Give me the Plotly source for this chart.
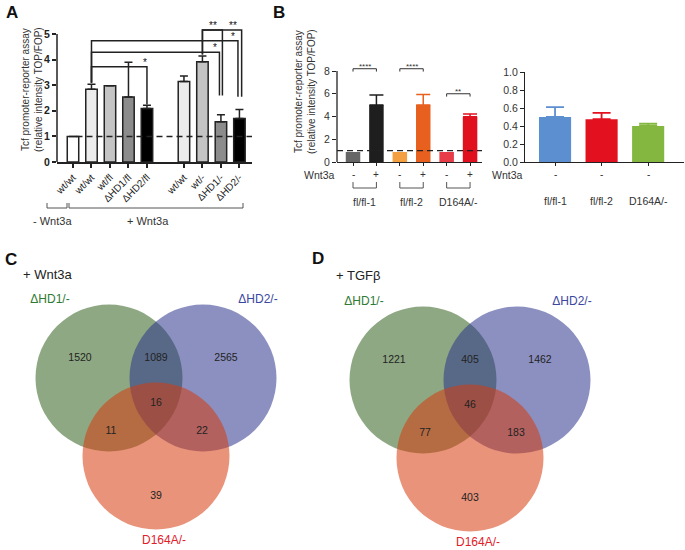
import plotly.graph_objects as go

W, H = 685, 550
FONT = "Liberation Sans, Arial, sans-serif"


def px(x):
    return x / W


def py(y):
    return 1 - y / H


# ---- Panel A data ----
labels_a = ["wt/wt", "wt/wt", "wt/fl", "ΔHD1/fl", "ΔHD2/fl", "wt/wt", "wt/-", "ΔHD1/-", "ΔHD2/-"]
pos_a = [0, 1, 2, 3, 4, 6, 7, 8, 9]
vals_a = [1.0, 2.84, 2.98, 2.54, 2.09, 3.14, 3.92, 1.57, 1.70]
err_a = [0, 0.2, 0, 1.36, 0.13, 0.22, 0.22, 0.28, 0.35]
colors_a = ["#ffffff", "#ececec", "#c4c4c4", "#8c8c8c", "#000000",
            "#ececec", "#c4c4c4", "#8c8c8c", "#000000"]
# (from bar, to bar, level, text, leg end, leg x shift, star x shift)
sig_a = [(1, 4, 3.72, "*", 2.25, 0.0, -0.1),
         (1, 7, 4.29, "*", 2.6, -0.08, -0.32),
         (1, 8, 4.74, "*", 2.55, -0.08, -0.35),
         (6, 7, 5.16, "**", 2.6, 0.08, -0.45),
         (6, 8, 5.16, "**", 2.55, 0.12, -0.35)]

# ---- Panel B data ----
wnt_b = ["-", "+", "-", "+", "-", "+"]
vals_b = [0.88, 5.02, 0.88, 5.02, 0.88, 3.97]
err_b = [0, 0.88, 0, 0.92, 0, 0.24]
colors_b = ["#666666", "#1e1e1e", "#f4a040", "#e8601e", "#e83c48", "#e0101e"]
groups_b = ["fl/fl-1", "fl/fl-2", "D164A/-"]
sig_b = [(0, 1, 8.2, "****"), (2, 3, 8.2, "****"), (4, 5, 6.0, "**")]

vals_b2 = [0.50, 0.475, 0.40]
err_b2 = [0.11, 0.07, 0.025]
colors_b2 = ["#5b8fd0", "#e3101f", "#84b740"]

# ---- Venn data (regions: G, GB, B, GBR, GR, BR, R) ----
sets_venn = ["ΔHD1/-", "ΔHD2/-", "D164A/-"]
counts_c = [1520, 1089, 2565, 16, 11, 22, 39]
counts_d = [1221, 405, 1462, 46, 77, 183, 403]

fig = go.Figure()

# Panel A bars
fig.add_trace(go.Bar(
    x=pos_a, y=vals_a, width=0.62, xaxis="x", yaxis="y",
    marker=dict(color=colors_a, line=dict(color="#222", width=1.5)),
    error_y=dict(type="data", array=err_a, arrayminus=[0] * len(err_a), symmetric=False,
                 color="#222", thickness=1.5, width=4),
))

# Panel B left bars
for i, v in enumerate(vals_b):
    fig.add_trace(go.Bar(
        x=[i], y=[v], width=0.62, xaxis="x2", yaxis="y2",
        marker=dict(color=colors_b[i], line=dict(width=0)),
        error_y=dict(type="data", array=[err_b[i]], arrayminus=[0], symmetric=False,
                     color=colors_b[i], thickness=1.5, width=7, visible=err_b[i] > 0),
    ))

# Panel B right bars
for i, v in enumerate(vals_b2):
    fig.add_trace(go.Bar(
        x=[i], y=[v], width=0.69, xaxis="x3", yaxis="y3",
        marker=dict(color=colors_b2[i], line=dict(width=0)),
        error_y=dict(type="data", array=[err_b2[i]], arrayminus=[0], symmetric=False,
                     color=colors_b2[i], thickness=1.8, width=9),
    ))

shapes = []
ann = []


def note(x, y, text, size=10.5, color="#333", xref="paper", yref="paper", **kw):
    ann.append(dict(x=x, y=y, xref=xref, yref=yref, text=text, showarrow=False,
                    xanchor=kw.pop("xanchor", "center"), yanchor=kw.pop("yanchor", "middle"),
                    font=dict(size=size, color=color, **kw.pop("font_extra", {})), **kw))


# axis lines / dashed reference
shapes.append(dict(type="line", xref="x domain", yref="y", x0=0, x1=0, y0=0, y1=5,
                   line=dict(color="#222", width=1.5)))
shapes.append(dict(type="line", xref="x domain", yref="y", x0=0.1, x1=1, y0=1, y1=1,
                   line=dict(color="#222", width=1.5, dash="6px,4px")))
shapes.append(dict(type="line", xref="x2 domain", yref="y2", x0=0, x1=0, y0=0, y1=8,
                   line=dict(color="#222", width=1.3)))
shapes.append(dict(type="line", xref="x2 domain", yref="y2", x0=0, x1=1, y0=1, y1=1,
                   line=dict(color="#222", width=1.3, dash="6px,4px")))

# significance brackets A
for i, j, lev, txt, bot, dx, sx in sig_a:
    xi, xj = pos_a[i], pos_a[j] + dx
    top_i = vals_a[i] + err_a[i] + 0.06
    shapes.append(dict(type="path", xref="x", yref="y",
                       path=f"M{xi},{top_i} L{xi},{lev} L{xj},{lev} L{xj},{bot}",
                       line=dict(color="#222", width=1.5)))
    note(pos_a[j] + sx, lev, txt, size=10, color="#111", xref="x", yref="y",
         yanchor="bottom", yshift=-3)

# significance brackets B
for i, j, lev, txt in sig_b:
    shapes.append(dict(type="path", xref="x2", yref="y2",
                       path=f"M{i},{lev - 0.25} L{i},{lev} L{j},{lev} L{j},{lev - 0.25}",
                       line=dict(color="#333", width=1)))
    note((i + j) / 2, lev, txt, size=8, xref="x2", yref="y2", yanchor="bottom", yshift=-4)

# below panel A
for x0, x1 in [(47, 67), (69, 243)]:
    shapes.append(dict(type="path", xref="paper", yref="paper",
                       path=f"M{px(x0)},{py(203)} L{px(x0)},{py(208)} L{px(x1)},{py(208)} L{px(x1)},{py(203)}",
                       line=dict(color="#555", width=1)))
note(px(52), py(221), "- Wnt3a", size=11)
note(px(148), py(221), "+ Wnt3a", size=11)

# below panel B left
note(px(319), py(175), "Wnt3a")
for i, s in enumerate(wnt_b):
    note(i, py(175), s, size=10, xref="x2")
for g, name in enumerate(groups_b):
    a, b = 2 * g, 2 * g + 1
    shapes.append(dict(type="path", xref="x2", yref="paper",
                       path=f"M{a},{py(182)} L{a},{py(188)} L{b},{py(188)} L{b},{py(182)}",
                       line=dict(color="#555", width=1)))
    note((a + b) / 2, py(202), name, xref="x2")

# below panel B right
note(px(507), py(175), "Wnt3a")
for i, name in enumerate(groups_b):
    note(i, py(175), "-", size=10, xref="x3")
    note(i, py(201), name, xref="x3")

# y titles
ytitle = "Tcf promoter-reporter assay<br>(relative intensity TOP/FOP)"
for x, y in [(32, 90), (305, 92)]:
    note(px(x), py(y), ytitle, size=10, textangle=-90)

# panel letters and subtitles
for t, x, y in [("A", 12, 12), ("B", 279, 12), ("C", 11, 259), ("D", 318, 258)]:
    note(px(x), py(y), t, size=17, color="#111", font_extra=dict(weight="bold"))
note(px(48), py(274), "+ Wnt3a", size=13, color="#222")
note(px(358), py(275), "+ TGFβ", size=13, color="#222")

# ---- Venn diagrams ----
R = 73.5
circle_off = [(-47, -26), (47, -26), (0, 52)]
circle_fill = ["rgba(50,97,30,0.55)", "rgba(44,52,140,0.55)", "rgba(213,59,13,0.55)"]
label_off = [(-106, -104), (102, -104), (8, 137)]
label_col = ["#2f7a34", "#3a47a0", "#e2202a"]
region_off = [(-76, -46), (0, -46), (70, -46), (0, -1), (-45, 27), (46, 27), (0, 92)]

for (cx, cy), counts in [((156, 404), counts_c), ((470, 406), counts_d)]:
    for k in range(3):
        ox, oy = circle_off[k]
        shapes.append(dict(type="circle", xref="x4", yref="y4",
                           x0=cx + ox - R, x1=cx + ox + R, y0=cy + oy - R, y1=cy + oy + R,
                           fillcolor=circle_fill[k], line=dict(width=0), layer="below"))
    fig.add_trace(go.Scatter(
        x=[cx + o[0] for o in region_off], y=[cy + o[1] for o in region_off],
        mode="text", text=[str(c) for c in counts], xaxis="x4", yaxis="y4",
        textfont=dict(size=10.5, color="#222"), hoverinfo="skip", cliponaxis=False))
    fig.add_trace(go.Scatter(
        x=[cx + o[0] for o in label_off], y=[cy + o[1] for o in label_off],
        mode="text", text=sets_venn, xaxis="x4", yaxis="y4",
        textfont=dict(size=12, color=label_col), hoverinfo="skip", cliponaxis=False))

axis_common = dict(showgrid=False, zeroline=False, ticks="outside", tickcolor="#222",
                   automargin=False)

fig.update_layout(
    template="none",
    width=W, height=H, margin=dict(l=0, r=0, t=0, b=0, pad=0), autosize=False,
    paper_bgcolor="white", plot_bgcolor="rgba(0,0,0,0)", showlegend=False,
    font=dict(family=FONT, size=10, color="#222"),
    xaxis=dict(domain=[px(57), px(252)], range=[-0.865, 9.68], tickvals=pos_a, ticktext=labels_a,
               tickangle=-45, ticklen=4, tickwidth=1.5, showline=True, linewidth=1.5,
               linecolor="#222", tickfont=dict(size=10, color="#222"), anchor="y", **axis_common),
    yaxis=dict(domain=[py(162), py(26)], range=[0, 136 / 25.6], tickvals=[0, 1, 2, 3, 4, 5],
               ticklen=4, tickwidth=1.5, showline=False, anchor="x",
               tickfont=dict(size=10.5, color="#222", weight="bold"), **axis_common),
    xaxis2=dict(domain=[px(337), px(482)], range=[-0.684, 5.51], tickvals=list(range(6)),
                showticklabels=False, ticklen=3, tickwidth=1, showline=True, linewidth=1.3,
                linecolor="#222", anchor="y2", **axis_common),
    yaxis2=dict(domain=[py(162), py(62)], range=[0, 100 / 11.375], tickvals=[0, 2, 4, 6, 8],
                ticklen=4, tickwidth=1, showline=False, anchor="x2",
                tickfont=dict(size=10.5, color="#333"), **axis_common),
    xaxis3=dict(domain=[px(525), px(684)], range=[-0.645, 2.77], tickvals=[0, 1, 2],
                showticklabels=False, ticklen=3, tickwidth=1, showline=True, linewidth=1.3,
                linecolor="#222", anchor="y3", **axis_common),
    yaxis3=dict(domain=[py(162), py(72)], range=[0, 1.0], tickvals=[0, 0.2, 0.4, 0.6, 0.8, 1.0],
                tickformat=".1f", ticklen=4, tickwidth=1, showline=True, linewidth=1.3,
                linecolor="#222", anchor="x3", tickfont=dict(size=10.5, color="#333"), **axis_common),
    xaxis4=dict(domain=[0, 1], range=[0, W], visible=False, anchor="y4"),
    yaxis4=dict(domain=[0, py(280)], range=[H, 280], visible=False, anchor="x4"),
    shapes=shapes, annotations=ann,
)

# the page body has a default 8px margin; drop it so the figure fills the window exactly
fig.write_html("out.html", config={"displayModeBar": False},
               post_script="document.body.style.margin='0';")
